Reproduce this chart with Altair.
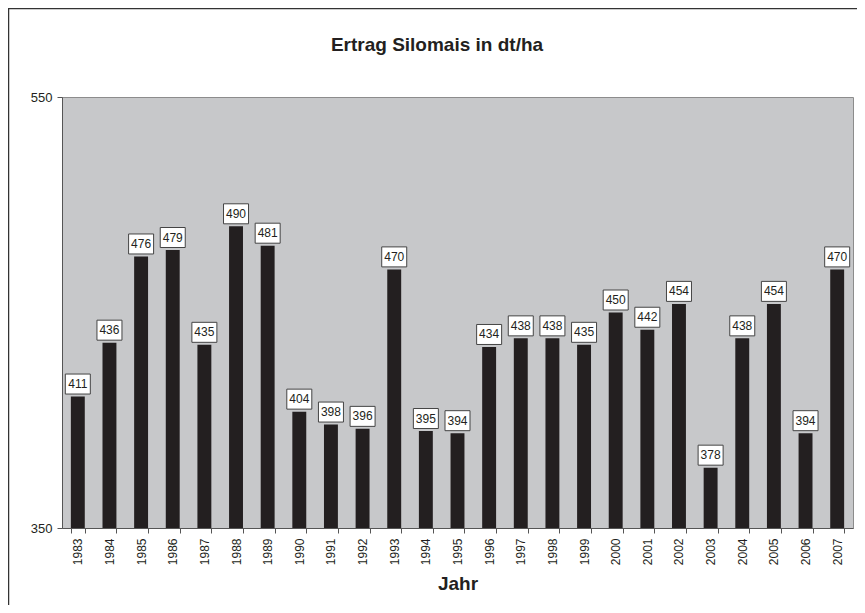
import altair as alt
import pandas as pd

years = [str(y) for y in range(1983, 2008)]
values = [411, 436, 476, 479, 435, 490, 481, 404, 398, 396, 470, 395, 394,
          434, 438, 438, 435, 450, 442, 454, 378, 438, 454, 394, 470]
chart_title = "Ertrag Silomais in dt/ha"

df = pd.DataFrame({"Jahr": years, "Ertrag": values})

FONT = "Liberation Sans"
INK = "#231f20"

x_enc = alt.X(
    "Jahr:N",
    sort=years,
    scale=alt.Scale(paddingInner=0.56, paddingOuter=0.28),
    axis=alt.Axis(
        title="Jahr",
        labelAngle=-90,
        labelAlign="right",
        labelBaseline="middle",
        tickBand="extent",
        tickSize=5,
        labelPadding=5,
        labelFont=FONT,
        labelFontSize=12,
        labelColor=INK,
        titleFont=FONT,
        titleFontSize=19,
        titleFontWeight="bold",
        titleColor=INK,
        titlePadding=10,
        domainColor="#555555",
        tickColor="#555555",
        grid=False,
    ),
)
y_enc = alt.Y(
    "Ertrag:Q",
    scale=alt.Scale(domain=[350, 550], nice=False, zero=False),
    axis=alt.Axis(
        title=None,
        values=[350, 550],
        tickSize=5,
        labelPadding=5,
        labelFont=FONT,
        labelFontSize=13,
        labelColor=INK,
        domainColor="#555555",
        tickColor="#555555",
        grid=False,
    ),
)

frame_left = alt.Chart(alt.Data(values=[{}])).mark_rule(
    stroke="#333333", strokeWidth=1.5
).encode(x=alt.value(-53.5), y=alt.value(-89), y2=alt.value(520))

frame_top = alt.Chart(alt.Data(values=[{}])).mark_rule(
    stroke="#333333", strokeWidth=1.5
).encode(x=alt.value(-54), x2=alt.value(800), y=alt.value(-88.5))

title = alt.Chart(alt.Data(values=[{"t": chart_title}])).mark_text(
    font=FONT, fontSize=19, fontWeight="bold", color=INK,
    align="center", baseline="alphabetic",
).encode(x=alt.value(375), y=alt.value(-46), text="t:N")

bars = alt.Chart(df).mark_bar(color=INK, clip=True).encode(x=x_enc, y=y_enc)

boxes = alt.Chart(df).mark_point(
    shape="M-1.25,-1H1.25V1H-1.25Z",
    size=400,
    filled=True,
    fill="white",
    fillOpacity=1,
    stroke="#444444",
    strokeWidth=1,
    opacity=1,
    yOffset=-12.5,
).encode(x=x_enc, y=y_enc)

labels = alt.Chart(df).mark_text(
    font=FONT, fontSize=12, color=INK, baseline="middle", align="center", dy=-12.5
).encode(x=x_enc, y=y_enc, text="Ertrag:Q")

chart = alt.layer(frame_left, frame_top, title, bars, boxes, labels).properties(
    width=791,
    height=431,
    background="white",
    autosize=alt.AutoSizeParams(type="none"),
    padding={"left": 54, "top": 89, "right": 4, "bottom": 77},
).configure_view(
    fill="#c7c8ca", stroke="#8c8c8c", strokeWidth=1
)

chart.save("out.html", embed_options={"renderer": "svg", "actions": False})
